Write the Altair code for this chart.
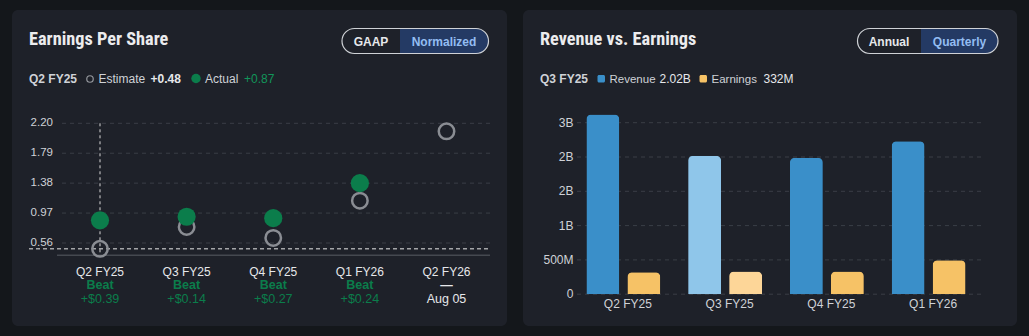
import altair as alt
import pandas as pd

# ---------------- data ----------------
eps_quarters = ["Q2 FY25", "Q3 FY25", "Q4 FY25", "Q1 FY26", "Q2 FY26"]
eps_estimate = [0.48, 0.78, 0.63, 1.14, 2.09]
eps_actual = [0.87, 0.92, 0.90, 1.38, None]
eps_result = ["Beat", "Beat", "Beat", "Beat", "—"]
eps_detail = ["+$0.39", "+$0.14", "+$0.27", "+$0.24", "Aug 05"]
eps_ticks = [0.56, 0.97, 1.38, 1.79, 2.20]
eps_focus = "Q2 FY25"

rev_quarters = ["Q2 FY25", "Q3 FY25", "Q4 FY25", "Q1 FY26"]
rev_revenue = [2.62e9, 2.02e9, 1.99e9, 2.23e9]
rev_earnings = [0.320e9, 0.332e9, 0.330e9, 0.495e9]
rev_ticks = [0, 0.5e9, 1.0e9, 1.5e9, 2.0e9, 2.5e9]
rev_tick_labels = ["0", "500M", "1B", "2B", "2B", "3B"]
rev_focus = "Q3 FY25"

# ---------------- style ----------------
PAGE = "#14171b"
CARD = "#1e2129"
WHITE = "#e6e8eb"
SOFT = "#cfd2d7"
GRID = "#3a3e46"
GREEN = "#0b7d4b"
GREEN_TXT = "#12955a"
BLUE = "#3a8fc9"
BLUE_HI = "#8fc6ea"
GOLD = "#f6c266"
GOLD_HI = "#fdd698"
FONT = "Liberation Sans"
TFONT = "Liberation Sans Narrow, Roboto Condensed, Liberation Sans"

eps_df = pd.DataFrame({"quarter": eps_quarters, "estimate": eps_estimate,
                       "actual": eps_actual, "result": eps_result, "detail": eps_detail})
eps_tick_df = pd.DataFrame({"v": eps_ticks})
rev_df = pd.DataFrame({"quarter": rev_quarters, "revenue": rev_revenue, "earnings": rev_earnings})
rev_tick_df = pd.DataFrame({"v": rev_ticks, "label": rev_tick_labels})

ONE = alt.Data(values=[{"a": 1}])


def box(x, x2, y, y2, **kw):
    return alt.Chart(ONE).mark_rect(**kw).encode(
        x=alt.value(x), x2=alt.value(x2), y=alt.value(y), y2=alt.value(y2))


def label(x, y, text, align="left", size=12, color=WHITE, weight="normal", font=FONT, baseline="alphabetic"):
    return alt.Chart(ONE).mark_text(text=text, align=align, baseline=baseline, fontSize=size,
                                    color=color, fontWeight=weight, font=font).encode(
        x=alt.value(x), y=alt.value(y))


# ---------------- cards & headers ----------------
deco = [
    box(12, 507, 10, 326, fill=CARD, cornerRadius=6),
    box(523, 1017, 10, 326, fill=CARD, cornerRadius=6),
    # left header
    label(29, 44.5, "Earnings Per Share", size=18.3, weight="bold", font=TFONT, color="#ececee"),
    box(400, 488.5, 28.5, 53.5, fill="#243a64", cornerRadiusTopRight=12.5, cornerRadiusBottomRight=12.5),
    box(342, 488.5, 28.5, 53.5, fillOpacity=0, stroke="#cfd2d6", strokeWidth=1.2, cornerRadius=12.5),
    label(371, 45.5, "GAAP", align="center", size=12, weight="bold", color=WHITE),
    label(444, 45.5, "Normalized", align="center", size=12, weight="bold", color="#93bdf2"),
    # left legend
    label(29, 82.5, eps_focus, size=12, weight="bold", color=SOFT),
    alt.Chart(ONE).mark_point(shape="circle", size=42, filled=False, color="#c6c9ce", strokeWidth=1.2).encode(
        x=alt.value(90), y=alt.value(79)),
    label(98.5, 82.5, "Estimate", size=12, color=SOFT),
    label(150.5, 82.5, f"+{eps_estimate[0]:.2f}", size=12, weight="bold", color=WHITE),
    alt.Chart(ONE).mark_circle(size=90, color=GREEN, opacity=1).encode(x=alt.value(196), y=alt.value(78.5)),
    label(205, 82.5, "Actual", size=12, color=SOFT),
    label(244, 82.5, f"+{eps_actual[0]:.2f}", size=12, color=GREEN_TXT),
    # right header
    label(540, 44.5, "Revenue vs. Earnings", size=18.3, weight="bold", font=TFONT, color="#ececee"),
    box(921, 998, 28.5, 53.5, fill="#243a64", cornerRadiusTopRight=12.5, cornerRadiusBottomRight=12.5),
    box(857.5, 998, 28.5, 53.5, fillOpacity=0, stroke="#cfd2d6", strokeWidth=1.2, cornerRadius=12.5),
    label(889, 45.5, "Annual", align="center", size=12, weight="bold", color=WHITE),
    label(959.5, 45.5, "Quarterly", align="center", size=12, weight="bold", color="#93bdf2"),
    # right legend
    label(540, 82.5, rev_focus, size=12, weight="bold", color=SOFT),
    box(597.5, 605, 75, 82.5, fill=BLUE, cornerRadius=1.5),
    label(609.5, 82.5, "Revenue", size=11.5, color=SOFT),
    label(659.5, 82.5, f"{rev_revenue[rev_quarters.index(rev_focus)] / 1e9:.2f}B", size=12, color=WHITE),
    box(699.5, 707, 75, 82.5, fill=GOLD, cornerRadius=1.5),
    label(711.5, 82.5, "Earnings", size=11.5, color=SOFT),
    label(763.5, 82.5, f"{rev_earnings[rev_quarters.index(rev_focus)] / 1e6:.0f}M", size=12, color=WHITE),
]

# ---------------- EPS panel ----------------
x_eps = alt.X("quarter:N", axis=None,
              scale=alt.Scale(type="point", domain=eps_quarters, range=[100, 446.5], padding=0))


def y_eps(field):
    return alt.Y(field, type="quantitative", axis=None,
                 scale=alt.Scale(domain=[0.56, 2.20], range=[243, 123.3], nice=False, zero=False))


eps_grid = alt.Chart(eps_tick_df).mark_rule(color=GRID, strokeDash=[4, 4], strokeWidth=1).encode(
    y=y_eps("v"), x=alt.value(62), x2=alt.value(490))
eps_ticklab = alt.Chart(eps_tick_df).mark_text(align="right", baseline="middle", fontSize=11.5,
                                               font=FONT, color=SOFT).encode(
    y=y_eps("v"), x=alt.value(53), text=alt.Text("v:Q", format=".2f"))
eps_base = alt.Chart(ONE).mark_rule(color="#454950", strokeWidth=1.5).encode(
    x=alt.value(57), x2=alt.value(490), y=alt.value(255.3))
focus = alt.Chart(eps_df).transform_filter(alt.datum.quarter == eps_focus)
cross_h = focus.mark_rule(color="#e8e8e8", strokeDash=[4, 3], strokeWidth=1).encode(
    y=y_eps("estimate"), x=alt.value(29), x2=alt.value(490))
cross_v = focus.mark_rule(color="#d8d8d8", strokeDash=[3, 3], strokeWidth=1).encode(
    x=x_eps, y=alt.value(123.3), y2=alt.value(255.3))
est_pts = alt.Chart(eps_df).mark_point(shape="circle", filled=False, size=240, color="#8a8d93",
                                       strokeWidth=2.5, opacity=1).encode(x=x_eps, y=y_eps("estimate"))
act_pts = alt.Chart(eps_df).transform_filter("isValid(datum.actual)").mark_circle(
    size=330, color=GREEN, opacity=1).encode(x=x_eps, y=y_eps("actual"))
xl1 = alt.Chart(eps_df).mark_text(baseline="alphabetic", fontSize=12, font=FONT, color=WHITE).encode(
    x=x_eps, y=alt.value(275.7), text="quarter:N")
is_beat = alt.datum.result == "Beat"
xl2 = alt.Chart(eps_df).mark_text(baseline="alphabetic", fontSize=12.5, font=FONT, fontWeight="bold").encode(
    x=x_eps, y=alt.value(289.3), text="result:N",
    color=alt.condition(is_beat, alt.value(GREEN), alt.value(WHITE)))
xl3 = alt.Chart(eps_df).mark_text(baseline="alphabetic", fontSize=12.5, font=FONT).encode(
    x=x_eps, y=alt.value(303.3), text="detail:N",
    color=alt.condition(is_beat, alt.value(GREEN), alt.value(WHITE)))

eps_panel = alt.layer(eps_grid, eps_ticklab, eps_base, cross_h, cross_v, est_pts, act_pts, xl1, xl2, xl3)

# ---------------- Revenue panel ----------------
x_rev = alt.X("quarter:N", axis=None,
              scale=alt.Scale(type="band", domain=rev_quarters, range=[577, 984],
                              paddingInner=0, paddingOuter=0))


def y_rev(field):
    return alt.Y(field, type="quantitative", axis=None,
                 scale=alt.Scale(domain=[0, 2.5e9], range=[294.2, 122.7], nice=False, zero=False))


rev_grid = alt.Chart(rev_tick_df).mark_rule(color=GRID, strokeDash=[4, 4], strokeWidth=1).encode(
    y=y_rev("v"), x=alt.value(577), x2=alt.value(984))
rev_ticklab = alt.Chart(rev_tick_df).mark_text(align="right", baseline="middle", fontSize=12,
                                               font=FONT, color=SOFT).encode(
    y=y_rev("v"), x=alt.value(573.5), text="label:N")
is_focus = alt.datum.quarter == rev_focus
rev_bars = alt.Chart(rev_df).mark_bar(width=33, xOffset=-25, cornerRadiusTopLeft=5,
                                      cornerRadiusTopRight=5).encode(
    x=x_rev, y=y_rev("revenue"),
    color=alt.condition(is_focus, alt.value(BLUE_HI), alt.value(BLUE)))
earn_bars = alt.Chart(rev_df).mark_bar(width=33, xOffset=16, cornerRadiusTopLeft=5,
                                       cornerRadiusTopRight=5).encode(
    x=x_rev, y=y_rev("earnings"),
    color=alt.condition(is_focus, alt.value(GOLD_HI), alt.value(GOLD)))
rev_xlab = alt.Chart(rev_df).mark_text(baseline="alphabetic", fontSize=12, font=FONT, color=SOFT).encode(
    x=x_rev, y=alt.value(307.7), text="quarter:N")

rev_panel = alt.layer(rev_grid, rev_ticklab, rev_bars, earn_bars, rev_xlab)

chart = alt.layer(*deco, eps_panel, rev_panel).resolve_scale(
    x="independent", y="independent", color="independent"
).properties(
    width=1029, height=336, background=PAGE, padding=0,
    autosize=alt.AutoSizeParams(type="none")
).configure_view(stroke=None, fill=None)

chart.save("out.html", embed_options={"renderer": "svg", "actions": False})
